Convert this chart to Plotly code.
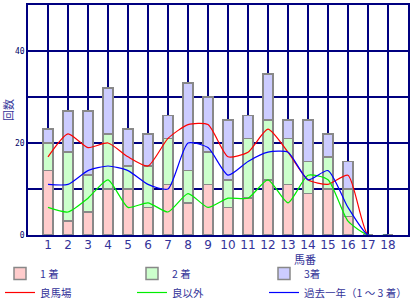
import plotly.graph_objects as go

horse_no = list(range(1, 19))
tick_labels = [str(i) for i in horse_no]

first = [14, 3, 5, 10, 10, 6, 11, 7, 11, 6, 8, 12, 11, 9, 10, 4, 0, 0]
second = [6, 15, 8, 12, 5, 9, 10, 7, 7, 6, 13, 13, 10, 7, 7, 6, 0, 0]
third = [3, 9, 14, 10, 8, 7, 5, 19, 12, 13, 5, 10, 4, 9, 5, 6, 0, 0]

good_track = [17, 22, 19, 20, 17, 15, 21, 24, 24, 17, 18, 23, 18, 12, 11, 13, 0, 0]
not_good = [6, 5, 8, 12, 6, 7, 5, 9, 6, 8, 8, 12, 7, 13, 12, 3, 0, 0]
past_year = [11, 11, 14, 15, 14, 11, 10, 20, 19, 13, 16, 18, 18, 12, 14, 6, 0, 0]

NAVY = "#000080"
TXT = "#333399"
FONT = "Noto Sans CJK JP"

fig = go.Figure()
bar_line = dict(color="#888888", width=1.5)
legends = ["legend", "legend2", "legend3"]
for lg, (name, vals, col) in zip(legends, [("1 着", first, "#FFCCCC"), ("2 着", second, "#CCFFCC"),
                                           ("3着", third, "#CCCCFF")]):
    fig.add_trace(go.Bar(x=horse_no, y=vals, name=name, width=0.5, legend=lg,
                         marker=dict(color=col, line=bar_line)))

for lg, (name, vals, col) in zip(legends, [("良馬場", good_track, "#FF0000"), ("良以外", not_good, "#00EE00"),
                                           ("過去一年（1 ～ 3 着）", past_year, "#0000FF")]):
    fig.add_trace(go.Scatter(x=horse_no, y=vals, name=name, mode="lines", legend=lg,
                             line=dict(color=col, width=1.2, shape="spline", smoothing=0.6)))


def leg(px):
    return dict(orientation="v", x=(px - 28) / 380, xanchor="left", y=-(259 - 235) / 230, yanchor="top",
                traceorder="normal", font=dict(size=10.5, color=TXT, family=FONT),
                tracegroupgap=0, bgcolor="rgba(0,0,0,0)")


fig.update_layout(
    width=420, height=300,
    margin=dict(l=28, r=12, t=5, b=65, autoexpand=False),
    barmode="stack",
    plot_bgcolor="white", paper_bgcolor="white",
    font=dict(family=FONT, color=TXT, size=11),
    showlegend=True,
    legend=leg(0), legend2=leg(132), legend3=leg(264),
    xaxis=dict(range=[0, 19], tickvals=horse_no, ticktext=tick_labels,
               showgrid=True, gridcolor=NAVY, gridwidth=1.5,
               showline=True, linecolor=NAVY, linewidth=1.5, mirror=True,
               ticks="", zeroline=False, ticklabelstandoff=-2,
               tickfont=dict(size=12, color=TXT, family="DejaVu Sans")),
    yaxis=dict(range=[0, 50], tickvals=[0, 10, 20, 30, 40, 50],
               ticktext=["0", "", "20", "", "40", ""],
               showgrid=True, gridcolor=NAVY, gridwidth=1.5,
               showline=True, linecolor=NAVY, linewidth=1.5, mirror=True,
               ticks="", zeroline=False,
               tickfont=dict(size=8, color="#000066", family="DejaVu Sans Mono")),
    annotations=[
        dict(text="馬番", xref="paper", yref="paper", x=(305 - 28) / 380, y=-(259 - 235) / 230,
             xanchor="center", yanchor="middle",
             showarrow=False, font=dict(size=11, color=TXT, family=FONT)),
        dict(text="回数", xref="paper", yref="paper", x=-(28 - 8) / 380, y=(235 - 110) / 230,
             xanchor="center", yanchor="middle",
             showarrow=False, textangle=-90, font=dict(size=11, color=TXT, family=FONT)),
    ],
)

fig.write_html("out.html")
